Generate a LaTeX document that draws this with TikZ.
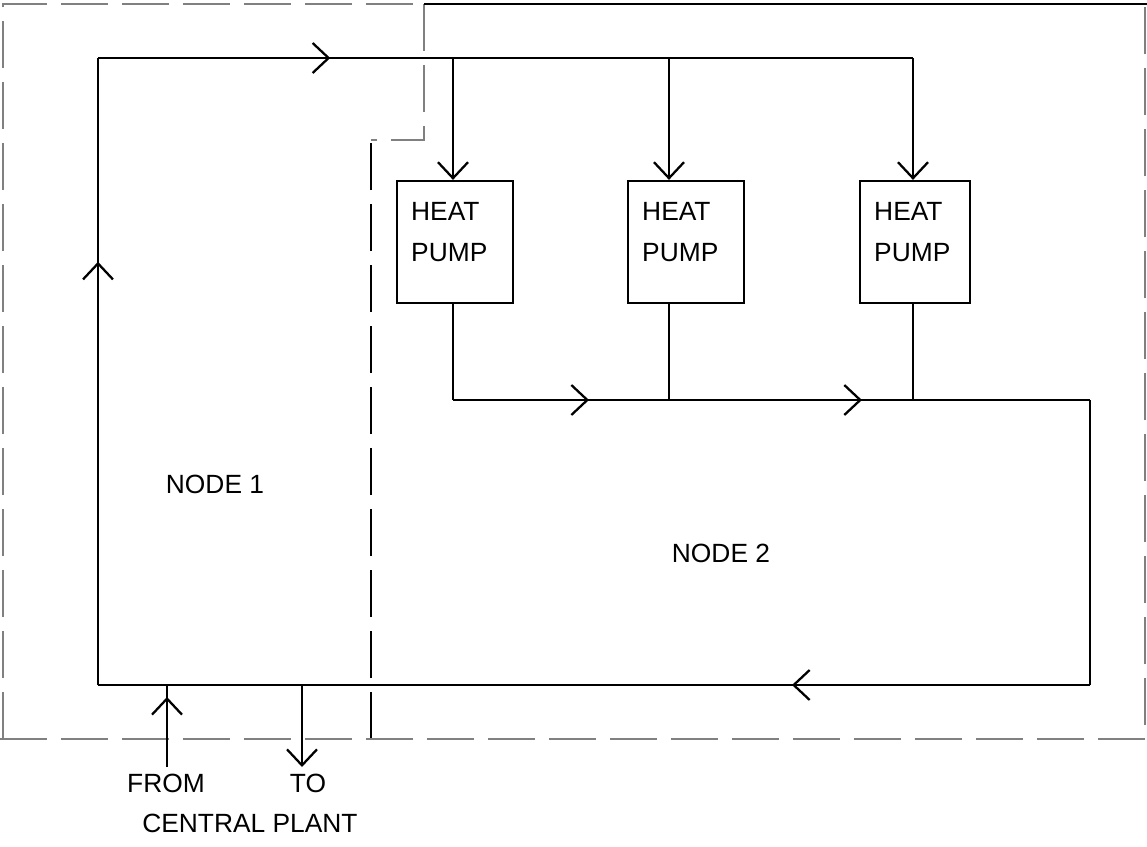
\documentclass[tikz,border=0pt]{standalone}
\usepackage{fontspec}
\setmainfont{Liberation Sans}
\usetikzlibrary{arrows.meta, decorations.markings}

\begin{document}
\begin{tikzpicture}[x=0.02cm, y=-0.02cm,
    font=\fontsize{15}{23.3}\selectfont,
    pipe/.style={line width=1.3pt},
    zone/.style={gray, line width=0.75pt, dash pattern=on 0.94cm off 0.28cm},
    barb/.style={-{Straight Barb[length=0.32cm, width=0.6cm]}},
    flow/.style={postaction={decorate, decoration={markings,
        mark=at position #1 with {\arrow{Straight Barb[length=0.32cm, width=0.6cm]}}}}},
    hpbox/.style={draw, line width=1.3pt, minimum width=2.32cm, minimum height=2.44cm, inner sep=0pt},
    hplabel/.style={anchor=north west, align=left, inner sep=0pt}]
    \useasboundingbox (0,0) rectangle (1147,846);

    % Zone boundaries
    \draw[zone] (3,739) -- (3,4) -- (424,4);
    \draw[zone] (424,4) -- (424,140) -- (371,140);
    \draw[black, line width=0.6pt, dash pattern=on 0.94cm off 0.28cm] (371,739) -- (371,140);
    \draw[zone] (0,739) -- (1145,739) -- (1145,4);
    \draw[line width=1.3pt] (424,4) -- (1147,4);

    % Heat pumps
    \node[hpbox] (hp1) at (455,242) {};
    \node[hpbox] (hp2) at (686,242) {};
    \node[hpbox, minimum width=2.2cm] (hp3) at (915,242) {};
    \foreach \i in {1,2,3}
        \node[hplabel] (hpt\i) at ([xshift=0.3cm, yshift=-0.44cm]hp\i.north west) {HEAT\\PUMP};

    % Junctions
    \coordinate (sA) at (98,58);
    \coordinate (s1) at (453,58);
    \coordinate (s2) at (669,58);
    \coordinate (s3) at (913,58);
    \coordinate (r1) at (453,400);
    \coordinate (r2) at (669,400);
    \coordinate (r3) at (913,400);
    \coordinate (rE) at (1090,400);
    \coordinate (bE) at (1090,685);
    \coordinate (bL) at (98,685);
    \coordinate (fTop) at (167,685);
    \coordinate (fEnd) at (167,767);
    \coordinate (tTop) at (302,685);
    \coordinate (tEnd) at (302,767);

    % Supply
    \draw[pipe, flow=0.675] (bL) -- (sA);
    \draw[pipe, flow=0.285] (sA) -- (s3);
    \draw[pipe, barb] (s1) -- (s1 |- hp1.north);
    \draw[pipe, barb] (s2) -- (s2 |- hp2.north);
    \draw[pipe, barb] (s3) -- (s3 |- hp3.north);

    % Return
    \draw[pipe] (r1 |- hp1.south) -- (r1);
    \draw[pipe] (r2 |- hp2.south) -- (r2);
    \draw[pipe] (r3 |- hp3.south) -- (r3);
    \draw[pipe, flow=0.2135, flow=0.642] (r1) -- (rE);
    \draw[pipe] (rE) -- (bE);
    \draw[pipe, flow=0.3004] (bE) -- (bL);

    % Central plant connections
    \draw[pipe, flow=0.854] (fEnd) -- (fTop);
    \draw[pipe, barb] (tTop) -- (tEnd);

    \node (n1) at (215,484) {NODE 1};
    \node (n2) at (721,553) {NODE 2};
    \node (from) at (166,783) {FROM};
    \node (to) at (308,783) {TO};
    \node (cp) at (250,823) {CENTRAL PLANT};
\end{tikzpicture}
\end{document}
